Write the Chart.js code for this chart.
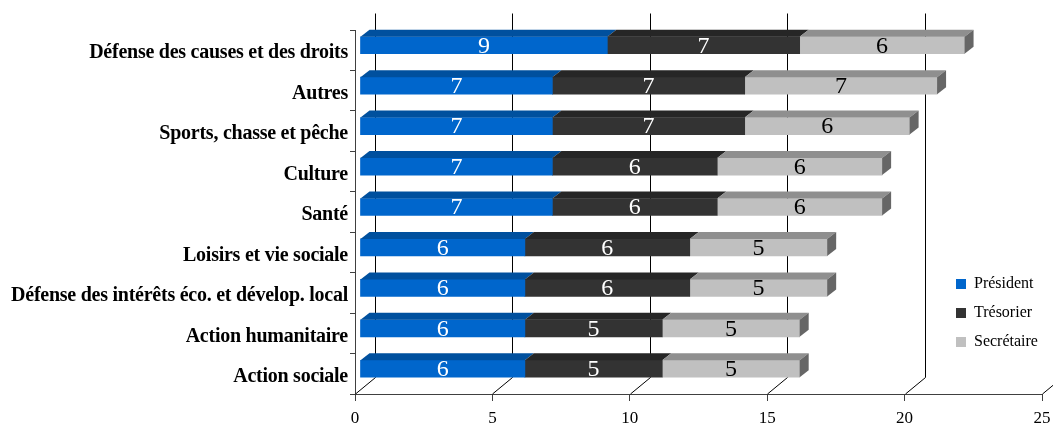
<!DOCTYPE html>
<html>
<head>
<meta charset="utf-8">
<script src="https://cdn.jsdelivr.net/npm/chart.js@4.4.0/dist/chart.umd.min.js"></script>
<style>
  body { margin: 0; background: #fff; }
  #wrap { width: 1053px; height: 426px; }
</style>
</head>
<body>
<div id="wrap"><canvas id="chart" width="1053" height="426"></canvas></div>
<script>
const categories = [
    'Défense des causes et des droits',
    'Autres',
    'Sports, chasse et pêche',
    'Culture',
    'Santé',
    'Loisirs et vie sociale',
    'Défense des intérêts éco. et dévelop. local',
    'Action humanitaire',
    'Action sociale'
];
const president = [9, 7, 7, 7, 7, 6, 6, 6, 6];
const tresorier = [7, 7, 7, 6, 6, 6, 6, 5, 5];
const secretaire = [6, 7, 6, 6, 6, 5, 5, 5, 5];
const xTicks = [0, 5, 10, 15, 20, 25];

// fake 3D look (like the old office charts)
const FLOOR_DX = 20, FLOOR_DY = -16.5;   // depth of the floor / back wall
const BAR_DX = 5, BAR_DY = -5;           // bars sit a bit behind the front plane
const TOP_DX = 9, TOP_DY = -7;           // depth of each bar
const topColors = ['#00509e', '#262626', '#8f8f8f'];
const sideColor = '#666666';
const labelColors = ['#ffffff', '#ffffff', '#000000'];

const box3d = {
    id: 'box3d',
    beforeDraw(chart) {
        // slightly condensed bold category labels
        const y = chart.scales.y;
        if (!y._condensed) {
            const orig = y.drawLabels.bind(y);
            y.drawLabels = function (area) {
                this.ctx.save();
                this.ctx.letterSpacing = '-0.25px';
                orig(area);
                this.ctx.restore();
            };
            y._condensed = true;
        }
        // legend goes bottom right, inside the plot
        const lg = chart.legend;
        const w = lg.width, h = lg.height;
        lg.left = 943; lg.top = 263;
        lg.right = lg.left + w; lg.bottom = lg.top + h;
    },
    beforeDatasetsDraw(chart) {
        const {ctx, chartArea, scales: {x}} = chart;
        ctx.save();
        ctx.strokeStyle = '#000';
        ctx.lineWidth = 1;
        ctx.beginPath();
        xTicks.forEach(v => {
            const px = Math.round(x.getPixelForValue(v)) + 0.5;
            ctx.moveTo(px, chartArea.bottom);
            ctx.lineTo(px + FLOOR_DX, chartArea.bottom + FLOOR_DY);
            ctx.lineTo(px + FLOOR_DX, chartArea.top + FLOOR_DY);
        });
        ctx.stroke();
        ctx.restore();
    },
    beforeDatasetDraw(chart) {
        chart.ctx.save();
        chart.ctx.translate(BAR_DX, BAR_DY);
    },
    afterDatasetDraw(chart) {
        chart.ctx.restore();
    },
    afterDatasetsDraw(chart) {
        const ctx = chart.ctx;
        const metas = [0, 1, 2].map(i => chart.getDatasetMeta(i));
        ctx.save();
        ctx.translate(BAR_DX, BAR_DY);
        categories.forEach((c, j) => {
            metas.forEach((meta, i) => {
                const bar = meta.data[j];
                const p = bar.getProps(['x', 'y', 'base', 'height'], true);
                const top = p.y - p.height / 2;
                const left = Math.min(p.base, p.x), right = Math.max(p.base, p.x);
                ctx.fillStyle = topColors[i];
                ctx.beginPath();
                ctx.moveTo(left, top);
                ctx.lineTo(left + TOP_DX, top + TOP_DY);
                ctx.lineTo(right + TOP_DX, top + TOP_DY);
                ctx.lineTo(right, top);
                ctx.closePath();
                ctx.fill();
                if (i === metas.length - 1) {
                    ctx.fillStyle = sideColor;
                    ctx.beginPath();
                    ctx.moveTo(right, top);
                    ctx.lineTo(right + TOP_DX, top + TOP_DY);
                    ctx.lineTo(right + TOP_DX, top + p.height + TOP_DY);
                    ctx.lineTo(right, top + p.height);
                    ctx.closePath();
                    ctx.fill();
                }
                // value in the middle of the front face
                ctx.fillStyle = labelColors[i];
                ctx.font = '24px "Liberation Serif"';
                ctx.textAlign = 'center';
                ctx.textBaseline = 'middle';
                ctx.fillText(String(chart.data.datasets[i].data[j]), (left + right) / 2, p.y + 1);
            });
        });
        ctx.restore();
    }
};

new Chart(document.getElementById('chart'), {
    type: 'bar',
    data: {
        labels: categories,
        datasets: [
            { label: 'Président', data: president, backgroundColor: '#0066cc', borderWidth: 0, barThickness: 17 },
            { label: 'Trésorier', data: tresorier, backgroundColor: '#333333', borderWidth: 0, barThickness: 17 },
            { label: 'Secrétaire', data: secretaire, backgroundColor: '#c0c0c0', borderWidth: 0, barThickness: 17 }
        ]
    },
    options: {
        indexAxis: 'y',
        responsive: false,
        animation: false,
        layout: { padding: { top: 30, right: 11, left: 0, bottom: 0 } },
        plugins: {
            legend: {
                position: 'chartArea',
                align: 'start',
                labels: {
                    boxWidth: 10,
                    boxHeight: 10,
                    padding: 13,
                    color: '#000',
                    font: { family: 'Liberation Serif', size: 16 }
                }
            },
            tooltip: { enabled: false }
        },
        scales: {
            x: {
                stacked: true,
                min: 0,
                max: 25,
                ticks: {
                    stepSize: 5,
                    color: '#000',
                    padding: 7,
                    maxRotation: 0,
                    font: { family: 'Liberation Serif', size: 17 }
                },
                grid: { drawOnChartArea: false, tickLength: 7, color: '#404040' },
                border: { color: '#404040' },
                afterFit: s => { s.height = 32; s.paddingLeft = 0; s.paddingRight = 0; }
            },
            y: {
                stacked: true,
                ticks: {
                    color: '#000',
                    padding: 2,
                    labelOffset: 3,
                    autoSkip: false,
                    font: { family: 'Liberation Serif', size: 20, weight: 'bold' }
                },
                grid: { drawOnChartArea: false, tickLength: 5, color: '#404040' },
                border: { color: '#404040' },
                afterFit: s => { s.width = 355; }
            }
        }
    },
    plugins: [box3d]
});
</script>
</body>
</html>
